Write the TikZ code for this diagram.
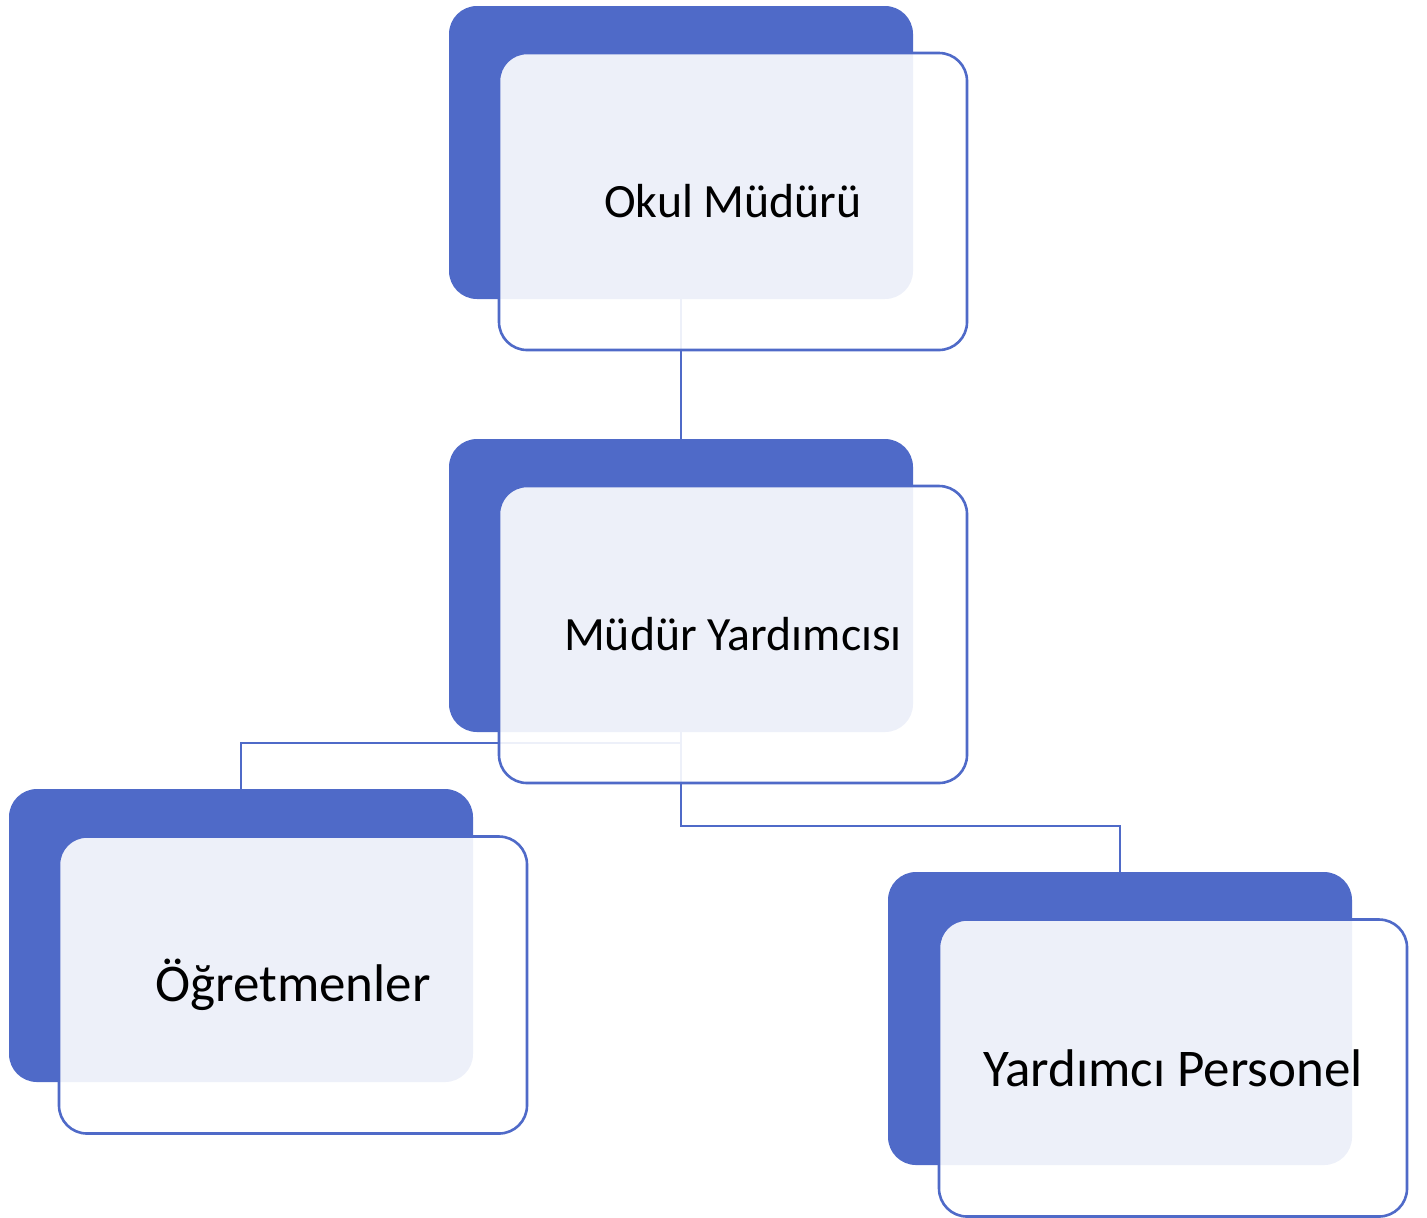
\documentclass[tikz,border=0pt]{standalone}
\usepackage{fontspec}
\setmainfont{Carlito}
\definecolor{darkblue}{HTML}{4F6AC8}
\begin{document}
\begin{tikzpicture}[x=0.5pt,y=-0.5pt,
  backbox/.style={rectangle, rounded corners=14pt, fill=darkblue, draw=none,
    minimum width=232pt, minimum height=146.5pt, inner sep=0pt, outer sep=0pt},
  frontbox/.style={rectangle, rounded corners=14pt, fill=white, fill opacity=0.9,
    text opacity=1, draw=darkblue, line width=1.3pt,
    minimum width=234pt, minimum height=148.5pt, inner sep=0pt, outer sep=0pt},
  smalltext/.style={font=\fontsize{23.9}{28}\selectfont},
  bigtext/.style={font=\fontsize{26.5}{31}\selectfont},
  link/.style={draw=darkblue, line width=1.1pt}]
\useasboundingbox (0,0) rectangle (1427,1217);
% back boxes
\node[backbox] (d1) at (681,152.5) {};
\node[backbox] (d2) at (681,585.5) {};
\node[backbox] (d3) at (241,935.5) {};
\node[backbox] (d4) at (1120,1018.5) {};
% connectors
\draw[link] (d1.south) -- (d2.north);
\draw[link] (d2.south) -- ++(0,11) -| (d3.north);
\draw[link] (d2.south) -- ++(0,94) -| (d4.north);
% front boxes
\node[frontbox, smalltext] (f1) at (733,201.5) {Okul Müdürü};
\node[frontbox, smalltext] (f2) at (733,634.5) {Müdür Yardımcısı};
\node[frontbox, bigtext] (f3) at (293,985) {Öğretmenler};
\node[frontbox, bigtext] (f4) at (1173,1068) {Yardımcı Personel};
\end{tikzpicture}
\end{document}
